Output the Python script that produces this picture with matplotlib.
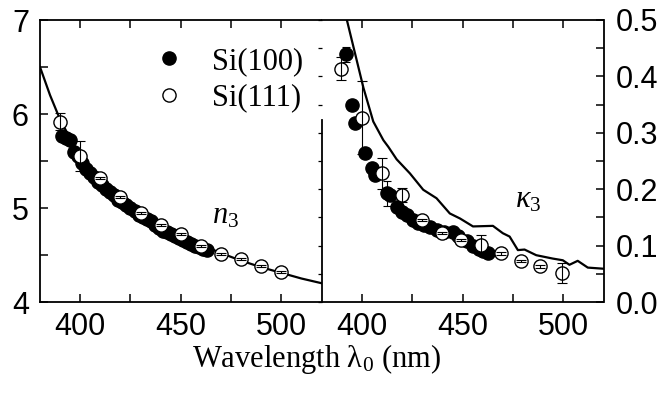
import numpy as np
import matplotlib.pyplot as plt
from matplotlib.ticker import MultipleLocator, FixedLocator

plt.rcParams['font.family'] = 'Liberation Sans'
plt.rcParams['mathtext.fontset'] = 'custom'
plt.rcParams['mathtext.rm'] = 'Liberation Serif'
plt.rcParams['mathtext.it'] = 'Liberation Serif:italic'

# n3 panel (left)
n_line_x = [380, 385, 390, 395, 400, 410, 420, 430, 440, 450, 460, 470, 480, 490, 500, 510, 520]
n_line_y = [6.50, 6.20, 5.94, 5.74, 5.56, 5.31, 5.11, 4.95, 4.82, 4.71, 4.61, 4.52, 4.44, 4.37, 4.31, 4.25, 4.20]

n100_x = [391, 393, 395, 397, 399, 401, 403, 405, 407, 409, 411, 413, 415, 417, 419,
          421, 423, 425, 427, 429, 431, 433, 435, 437, 439, 441, 443, 445, 447, 449,
          451, 453, 455, 457, 459, 461, 463]
n100_y = [5.77, 5.75, 5.72, 5.60, 5.55, 5.48, 5.42, 5.37, 5.33, 5.28, 5.24, 5.20, 5.17, 5.14, 5.09,
          5.06, 5.03, 5.00, 4.97, 4.93, 4.90, 4.88, 4.86, 4.82, 4.79, 4.76, 4.74, 4.72, 4.70, 4.68,
          4.66, 4.64, 4.62, 4.60, 4.58, 4.56, 4.55]

n111_x = [390, 400, 410, 420, 430, 440, 450, 460, 470, 480, 490, 500]
n111_y = [5.92, 5.55, 5.32, 5.12, 4.95, 4.82, 4.72, 4.60, 4.51, 4.46, 4.38, 4.32]
n111_err = [0.09, 0.16, 0.01, 0.01, 0.01, 0.01, 0.01, 0.01, 0.01, 0.01, 0.01, 0.01]

# kappa3 panel (right)
k_line_x = [390.0, 392.6, 396.7, 400.8, 405.7, 410.7, 413.2, 417.3, 423.9, 430.5, 437.1, 443.7,
            448.8, 455.2, 465.1, 470.0, 473.4, 477.5, 480.8, 486.6, 494.8, 499.8, 503.1,
            507.2, 512.2, 520.0]
k_line_y = [0.56, 0.50, 0.44, 0.38, 0.32, 0.287, 0.275, 0.253, 0.228, 0.199, 0.184, 0.157,
            0.148, 0.134, 0.135, 0.122, 0.116, 0.092, 0.093, 0.083, 0.077, 0.074, 0.066,
            0.073, 0.061, 0.059]

k100_x = [392.2, 395.0, 396.7, 401.6, 405.0, 406.6, 412.4, 414.0, 417.3, 420.0, 422.3, 425.5,
          428.0, 431.0, 433.8, 437.1, 441.0, 445.3, 448.0, 452.0, 455.0, 458.0, 460.0, 462.7]
k100_y = [0.439, 0.349, 0.317, 0.264, 0.237, 0.225, 0.193, 0.190, 0.169, 0.160, 0.154, 0.145,
          0.140, 0.137, 0.133, 0.128, 0.125, 0.125, 0.117, 0.108, 0.100, 0.094, 0.090, 0.086]
k100_err = [0.014, 0, 0, 0, 0, 0, 0.022, 0, 0, 0, 0, 0,
            0, 0, 0, 0, 0, 0, 0, 0, 0, 0, 0, 0]

k111_x = [389.8, 400.0, 409.9, 419.8, 429.7, 439.6, 449.5, 459.4, 469.3, 479.2, 488.6, 499.5]
k111_y = [0.414, 0.327, 0.228, 0.190, 0.145, 0.122, 0.110, 0.101, 0.086, 0.073, 0.063, 0.051]
k111_err = [0.020, 0.065, 0.027, 0.012, 0.002, 0.002, 0.002, 0.018, 0.002, 0.002, 0.002, 0.018]

W, H = 660, 397
fig = plt.figure(figsize=(W / 100, H / 100), dpi=100)
ax1 = fig.add_axes([40 / W, (H - 302) / H, 281.5 / W, 282 / H])
ax2 = fig.add_axes([321.5 / W, (H - 302) / H, 282 / W, 282 / H])

fs = 22
ms = 9.5
lw_ax = 1.3

def style_x(ax):
    ax.set_xlim(380, 520)
    ax.xaxis.set_major_locator(FixedLocator([400, 450, 500]))
    ax.xaxis.set_minor_locator(FixedLocator([425, 475]))
    ax.tick_params(axis='x', which='both', direction='in', top=True, bottom=True,
                   length=6, width=1.1, labelsize=fs, pad=7)
    for s in ax.spines.values():
        s.set_linewidth(lw_ax)

# left panel
ax1.plot(n_line_x, n_line_y, color='black', lw=1.6, zorder=1)
ax1.plot(n100_x, n100_y, 'o', color='black', ms=ms, zorder=2, label='Si(100)')
ax1.plot(n111_x, n111_y, 'o', mfc='white', mec='black', mew=1.0, ms=ms, zorder=3, label='Si(111)')
ax1.errorbar(n111_x, n111_y, yerr=n111_err, fmt='none', ecolor='black', elinewidth=0.8,
             capsize=3.5, capthick=0.8, zorder=4)
style_x(ax1)
ax1.set_ylim(4, 7)
ax1.yaxis.set_major_locator(MultipleLocator(1))
ax1.yaxis.set_minor_locator(MultipleLocator(0.5))
ax1.tick_params(axis='y', which='both', direction='in', left=True, right=False,
                length=6, width=1.1, labelsize=fs, pad=8)
ax1.spines['right'].set_visible(False)
ax1.text(465.5, 4.84, r'$n_3$', fontsize=fs, ha='left', va='baseline')

leg = ax1.legend(loc='upper left', bbox_to_anchor=(0.405, 0.905), frameon=False,
                 numpoints=1, handlelength=1.0, handletextpad=0.9, labelspacing=0.25,
                 borderpad=0, borderaxespad=0,
                 prop={'family': 'Liberation Serif', 'size': fs})

# right panel
ax2.plot(k_line_x, k_line_y, color='black', lw=1.6, zorder=1)
ax2.errorbar(k100_x, k100_y, yerr=k100_err, fmt='none', ecolor='black', elinewidth=0.8,
             capsize=3, capthick=0.8, zorder=1.5)
ax2.plot(k100_x, k100_y, 'o', color='black', ms=ms, zorder=2)
ax2.plot(k111_x, k111_y, 'o', mfc='white', mec='black', mew=1.0, ms=ms, zorder=3)
ax2.errorbar(k111_x, k111_y, yerr=k111_err, fmt='none', ecolor='black', elinewidth=0.8,
             capsize=3.5, capthick=0.8, zorder=4)
style_x(ax2)
ax2.set_ylim(0, 0.5)
ax2.yaxis.set_major_locator(MultipleLocator(0.1))
ax2.yaxis.set_minor_locator(MultipleLocator(0.05))
ax2.yaxis.set_major_formatter(plt.FormatStrFormatter('%.1f'))
ax2.tick_params(axis='y', which='both', direction='in', left=False, right=True,
                labelleft=False, labelright=True, length=6, width=1.1, labelsize=fs, pad=9)
ax2.spines['left'].set_bounds(0, 0.323)
ax2.text(475.9, 0.168, r'$\kappa_3$', fontsize=fs, ha='left', va='baseline')

sec = ax2.secondary_yaxis('left')
sec.yaxis.set_major_locator(MultipleLocator(0.05))
sec.tick_params(axis='y', which='both', direction='out', length=3, width=0.9, labelleft=False)
sec.spines['left'].set_visible(False)

fig.text(316 / W, 1 - 359 / H, r'Wavelength λ$_0$ (nm)', fontsize=fs, family='Liberation Serif',
         ha='center', va='center')

fig.savefig('out.png', dpi=100)
